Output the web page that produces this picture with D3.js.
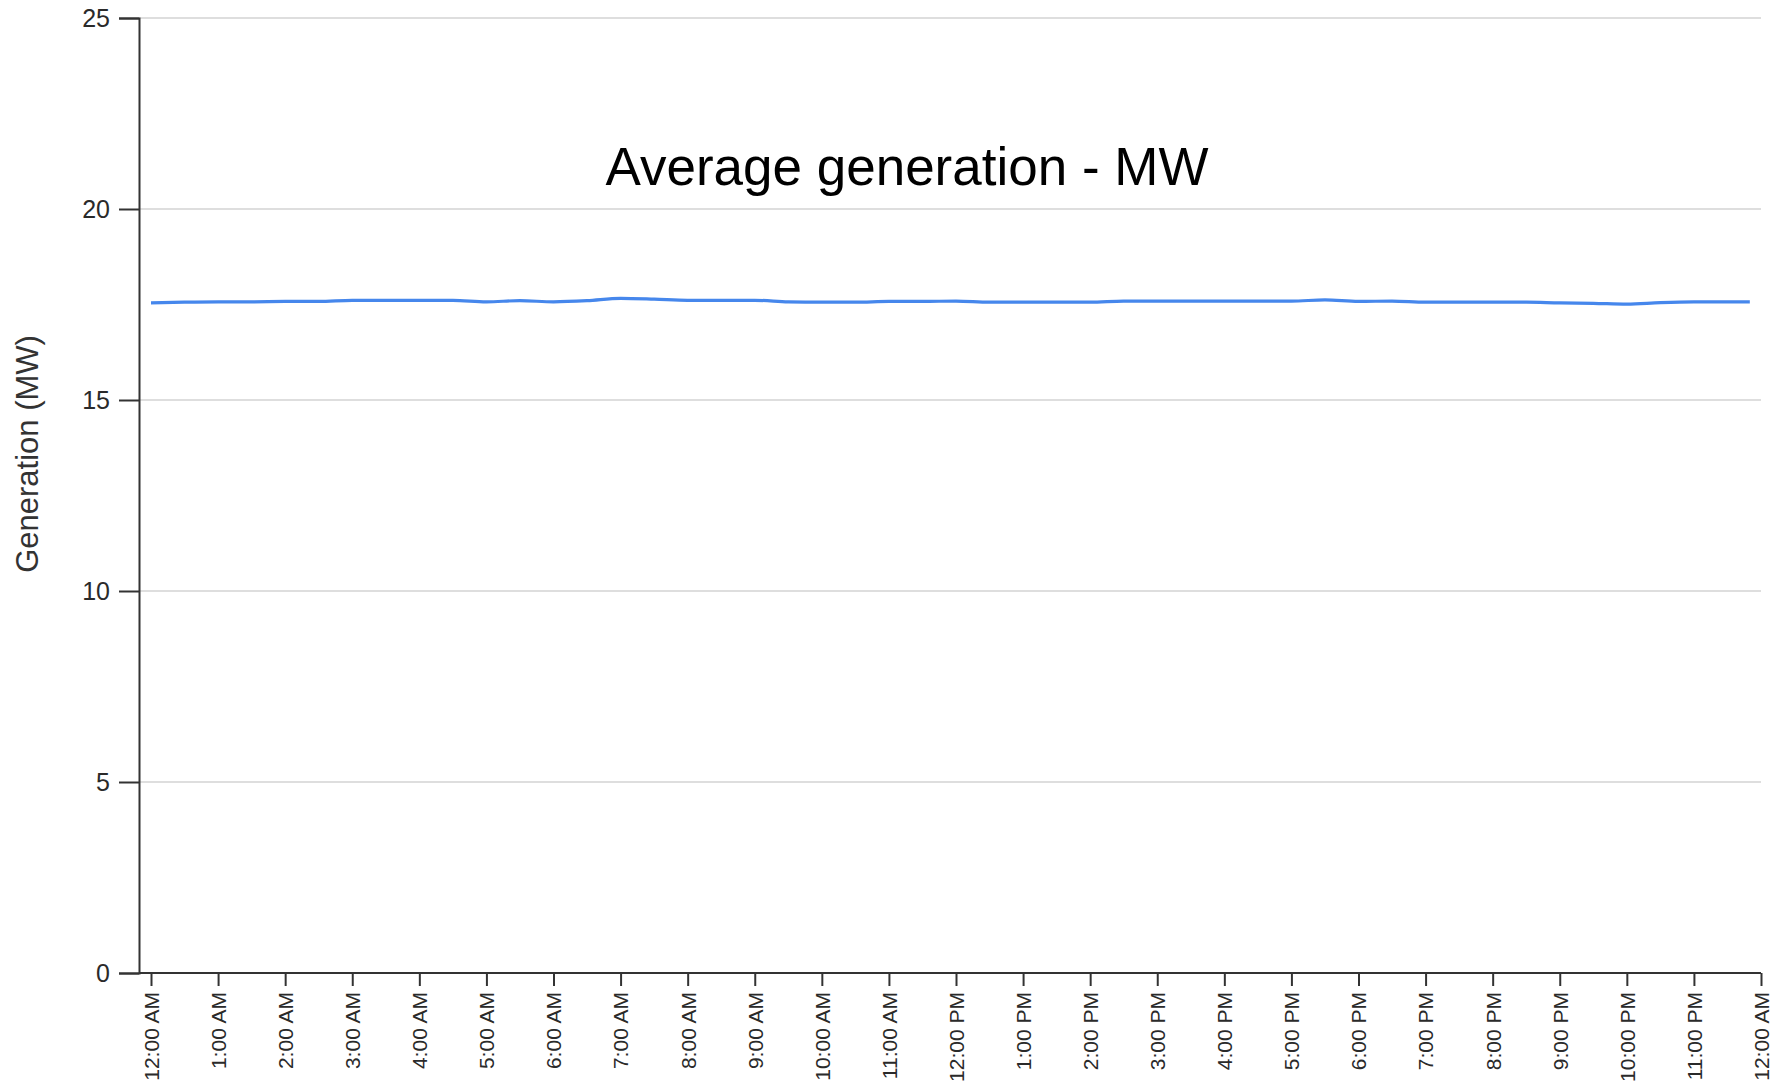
<!DOCTYPE html>
<html>
<head>
<meta charset="utf-8">
<script src="https://cdn.jsdelivr.net/npm/d3@7"></script>
<style>
  body { margin: 0; background: #fff; }
  svg text { font-family: "Liberation Sans", Arial, sans-serif; }
  .grid line { stroke: #dedede; stroke-width: 1.8; }
  .axis path, .axis line { stroke: #333; stroke-width: 2; }
  .axis text { fill: #2a2a2a; }
</style>
</head>
<body>
<svg class="chart" width="1781" height="1086"></svg>
<script>
// average generation readings through the day
var times = ["00:00","00:30","01:00","01:30","02:00","02:30","03:00","03:30",
             "04:00","04:30","05:00","05:30","06:00","06:30","07:00","07:30",
             "08:00","08:30","09:00","09:30","10:00","10:30","11:00","11:30",
             "12:00","12:30","13:00","13:30","14:00","14:30","15:00","15:30",
             "16:00","16:30","17:00","17:30","18:00","18:30","19:00","19:30",
             "20:00","20:30","21:00","21:30","22:00","22:30","23:00","23:30","23:50"];
var generation = [17.54,17.56,17.57,17.57,17.58,17.58,17.61,17.61,
                  17.61,17.61,17.57,17.60,17.57,17.60,17.66,17.64,
                  17.61,17.61,17.61,17.57,17.56,17.56,17.58,17.58,
                  17.59,17.56,17.56,17.56,17.56,17.59,17.59,17.59,
                  17.59,17.59,17.59,17.62,17.58,17.59,17.56,17.56,
                  17.56,17.56,17.54,17.53,17.51,17.55,17.57,17.57,17.57];
var yTicks = [0, 5, 10, 15, 20, 25];
var chartTitle = "Average generation - MW";
var yTitle = "Generation (MW)";

var svg = d3.select(".chart"),
    plotLeft = 139, plotRight = 1761, plotTop = 18, plotBottom = 973,
    xStart = 151;

var parseTime = d3.timeParse("%Y-%m-%d %H:%M");
var day = "2020-01-01";
var data = times.map(function(t, i) {
    return { date: parseTime(day + " " + t), value: generation[i] };
});

var x = d3.scaleTime()
    .domain([parseTime(day + " 00:00"), parseTime("2020-01-02 00:00")])
    .range([xStart, plotRight]);
var y = d3.scaleLinear().domain([0, 25]).range([plotBottom, plotTop]);

// gridlines
svg.append("g")
    .attr("class", "grid")
  .selectAll("line")
    .data(yTicks.filter(function(d) { return d > 0; }))
  .enter().append("line")
    .attr("x1", plotLeft)
    .attr("x2", plotRight)
    .attr("y1", function(d) { return y(d); })
    .attr("y2", function(d) { return y(d); });

// y axis
var yAxis = svg.append("g")
    .attr("class", "axis y")
    .attr("transform", "translate(" + plotLeft + ",0)")
    .call(d3.axisLeft(y).tickValues(yTicks).tickSize(20).tickPadding(9));
yAxis.selectAll("text").style("font-size", "25px");

// x axis
var xAxis = svg.append("g")
    .attr("class", "axis x")
    .attr("transform", "translate(0," + plotBottom + ")")
    .call(d3.axisBottom(x)
        .ticks(d3.timeHour.every(1))
        .tickFormat(d3.timeFormat("%-I:%M %p"))
        .tickSize(13)
        .tickSizeOuter(0));
xAxis.select(".domain").attr("d", "M" + plotLeft + ",0H" + plotRight);
xAxis.selectAll("text")
    .style("font-size", "21px")
    .style("text-anchor", "end")
    .attr("x", -19)
    .attr("y", 0)
    .attr("dy", "0.35em")
    .attr("transform", "rotate(-90)");

// the line
var line = d3.line()
    .curve(d3.curveMonotoneX)
    .x(function(d) { return x(d.date); })
    .y(function(d) { return y(d.value); });

svg.append("path")
    .datum(data)
    .attr("fill", "none")
    .attr("stroke", "#4687ec")
    .attr("stroke-width", 3.2)
    .attr("d", line);

// titles
svg.append("text")
    .attr("x", 907)
    .attr("y", 185)
    .attr("text-anchor", "middle")
    .style("font-size", "53px")
    .style("fill", "#000")
    .text(chartTitle);

svg.append("text")
    .attr("transform", "translate(38,454) rotate(-90)")
    .attr("text-anchor", "middle")
    .style("font-size", "31px")
    .style("fill", "#333")
    .text(yTitle);
</script>
</body>
</html>
